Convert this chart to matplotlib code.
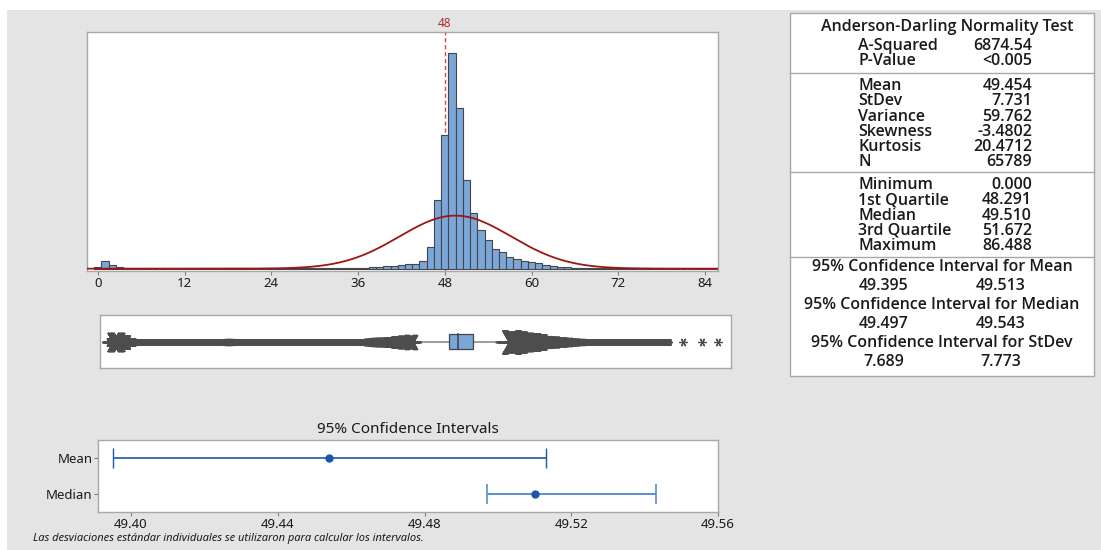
import matplotlib
matplotlib.use("Agg")
import matplotlib.pyplot as plt
from matplotlib.patches import Rectangle
from matplotlib.lines import Line2D
import numpy as np

plt.rcParams["font.family"] = ["Noto Sans", "DejaVu Sans"]

# ---------------------------------------------------
# DATA
# ---------------------------------------------------
# histogram, bins of width 1 centred on 0, 1, ..., 86
bin_centers = list(range(0, 87))
counts = [84, 485, 253, 84, 10, 6, 6, 6, 5, 5,
          5, 5, 6, 6, 6, 6, 8, 60, 55, 12,
          40, 30, 20, 22, 24, 26, 28, 30, 35, 38,
          40, 42, 45, 45, 48, 50, 55, 70, 105, 110,
          140, 190, 235, 295, 320, 485, 1414, 4410, 8546, 13778,
          10255, 5676, 3587, 2469, 1836, 1245, 1097, 760, 612, 485,
          443, 338, 211, 169, 127, 105, 70, 60, 45, 40,
          35, 28, 22, 18, 15, 12, 30, 10, 4, 3,
          0, 1, 1, 0, 1, 0, 1]
ref_value = 48

mean, stdev, n_obs = 49.454, 7.731, 65789
minimum, q1, median, q3 = 0.0, 48.291, 49.510, 51.672
whisker_low, whisker_high = 43.3, 56.7
extreme_outliers = [81.5, 84.2, 86.488]

mean_ci = (49.395, 49.513)
median_ci = (49.497, 49.543)
stdev_ci = (7.689, 7.773)

ad_rows = [("A-Squared", "6874.54"), ("P-Value", "<0.005")]
moment_rows = [("Mean", "49.454"), ("StDev", "7.731"), ("Variance", "59.762"),
               ("Skewness", "-3.4802"), ("Kurtosis", "20.4712"), ("N", "65789")]
quantile_rows = [("Minimum", "0.000"), ("1st Quartile", "48.291"),
                 ("Median", "49.510"), ("3rd Quartile", "51.672"),
                 ("Maximum", "86.488")]
ci_rows = [("95% Confidence Interval for Mean", mean_ci),
           ("95% Confidence Interval for Median", median_ci),
           ("95% Confidence Interval for StDev", stdev_ci)]

hist_ticks = [0, 12, 24, 36, 48, 60, 72, 84]
ci_ticks = [49.40, 49.44, 49.48, 49.52, 49.56]
ci_labels = ["Mean", "Median"]
footnote = "Las desviaciones estándar individuales se utilizaron para calcular los intervalos."

# ---------------------------------------------------
# FIGURE
# ---------------------------------------------------
W, H = 1101, 550
fig = plt.figure(figsize=(W / 100, H / 100), dpi=100, facecolor="white")


def fx(px):
    return px / W


def fy(py):
    return 1 - py / H


fig.add_artist(Rectangle((fx(7), 0), 1 - fx(7), fy(10), transform=fig.transFigure,
                         facecolor="#e4e4e4", edgecolor="none", zorder=-10))

BAR = "#7ba6da"
EDGE = "#464646"
FRAME = "#a8a8a8"
TXT = "#1a1a1a"


def frame(ax):
    for s in ax.spines.values():
        s.set_color(FRAME)
        s.set_linewidth(1.0)
    ax.set_facecolor("white")


# ---------------------------------------------------
# HISTOGRAM
# ---------------------------------------------------
ax_h = fig.add_axes([fx(87), fy(271), fx(718) - fx(87), fy(32) - fy(271)])
frame(ax_h)
ax_h.bar(bin_centers, counts, width=1.0, color=BAR, edgecolor=EDGE, linewidth=0.8, zorder=3)
xs = np.linspace(-1.5, 86, 600)
pdf = n_obs / (stdev * np.sqrt(2 * np.pi)) * np.exp(-0.5 * ((xs - mean) / stdev) ** 2)
ax_h.plot(xs, pdf, color="#9e1515", linewidth=1.3, zorder=4)
ax_h.axvline(ref_value, color="#e8403a", linestyle=(0, (3, 2)), linewidth=1.0, zorder=2)
ax_h.text(ref_value, 1.01, str(ref_value), transform=ax_h.get_xaxis_transform(),
          ha="center", va="bottom", color="#b03030", fontsize=8.5)
ax_h.set_xlim(-1.5, 85.8)
ax_h.set_ylim(-150, 15150)
ax_h.set_xticks(hist_ticks)
ax_h.set_yticks([])
ax_h.tick_params(axis="x", length=3, color="#808080", labelsize=9.5, labelcolor=TXT, pad=1)

# ---------------------------------------------------
# BOXPLOT
# ---------------------------------------------------
ax_b = fig.add_axes([fx(100), fy(368), fx(731) - fx(100), fy(315) - fy(368)])
frame(ax_b)
ax_b.set_xlim(-1.2, 88.3)
ax_b.set_ylim(-1, 1)
ax_b.set_xticks([])
ax_b.set_yticks([])
ax_b.plot([whisker_low, q1], [0, 0], color="#8c8c8c", linewidth=1.2, zorder=2)
ax_b.plot([q3, whisker_high], [0, 0], color="#8c8c8c", linewidth=1.2, zorder=2)
ax_b.add_patch(Rectangle((q1, -0.3), q3 - q1, 0.6, facecolor=BAR, edgecolor=EDGE,
                         linewidth=0.9, zorder=3))
ax_b.plot([median, median], [-0.3, 0.3], color=EDGE, linewidth=1.2, zorder=4)

# dense outliers: drawn bin by bin, marker size growing with the bin count
star = (6, 2, 90)
for c, cnt in zip(bin_centers, counts):
    if cnt == 0 or c >= 80:
        continue
    lo, hi = max(c - 0.5, minimum), c + 0.5
    if c < whisker_low + 1:
        hi = min(hi, whisker_low - 0.1)
    elif c > whisker_high - 1:
        lo = max(lo, whisker_high + 0.1)
    else:
        continue
    if hi <= lo:
        continue
    size_px = min(32, max(7, 1.0 * cnt ** 0.5))
    pos = np.arange(lo + 0.08, hi, 0.06)
    ax_b.plot(pos, np.zeros_like(pos), linestyle="none", marker=star,
              markersize=size_px * 0.72, markeredgewidth=1.0,
              color="#4d4d4d", zorder=3)
ax_b.plot(extreme_outliers, [0] * len(extreme_outliers), linestyle="none", marker=star,
          markersize=6, markeredgewidth=0.9, color="#4d4d4d", zorder=3)

# ---------------------------------------------------
# CONFIDENCE INTERVALS
# ---------------------------------------------------
ax_c = fig.add_axes([fx(98), fy(512), fx(718) - fx(98), fy(440) - fy(512)])
frame(ax_c)
ax_c.set_xlim(49.391, 49.56)
ax_c.set_ylim(-0.5, 1.5)
ax_c.errorbar([mean], [1], xerr=[[mean - mean_ci[0]], [mean_ci[1] - mean]],
              fmt="o", color="#1c58a8", ecolor="#1c58a8", elinewidth=1.2,
              capsize=7, capthick=1.0, markersize=5)
ax_c.errorbar([median], [0], xerr=[[median - median_ci[0]], [median_ci[1] - median]],
              fmt="o", color="#1c58a8", ecolor="#5a8fd0", elinewidth=1.4,
              capsize=7, capthick=1.2, markersize=5)
ax_c.set_yticks([1, 0])
ax_c.set_yticklabels(ci_labels)
ax_c.set_xticks(ci_ticks)
ax_c.set_xticklabels(["%.2f" % t for t in ci_ticks])
ax_c.tick_params(length=3, color="#808080", labelsize=9.5, labelcolor=TXT, pad=1)
ax_c.set_title("95% Confidence Intervals", fontsize=11, color=TXT, pad=5)

fig.text(fx(33), fy(538), footnote, fontsize=8, style="italic", color=TXT, va="center")

# ---------------------------------------------------
# SUMMARY TABLE
# ---------------------------------------------------
fig.add_artist(Rectangle((fx(790), fy(376)), fx(1094) - fx(790), fy(13) - fy(376),
                         transform=fig.transFigure, facecolor="white",
                         edgecolor=FRAME, linewidth=1.0))
for py in [73, 172, 257]:
    fig.add_artist(Line2D([fx(790), fx(1094)], [fy(py), fy(py)],
                          transform=fig.transFigure, color=FRAME, linewidth=1.0))

tkw = dict(fontsize=11.5, color=TXT, va="center", fontweight="semibold",
           family=["Open Sans", "DejaVu Sans"])
fig.text(fx(947), fy(27), "Anderson-Darling Normality Test", ha="center", **tkw)


def rows(items, y0):
    for i, (lab, val) in enumerate(items):
        y = y0 + i * 15.3
        fig.text(fx(858), fy(y), lab, ha="left", **tkw)
        fig.text(fx(1032), fy(y), val, ha="right", **tkw)


rows(ad_rows, 46)
rows(moment_rows, 86)
rows(quantile_rows, 185)
for i, (title, (lo, hi)) in enumerate(ci_rows):
    y = 267 + i * 38
    fig.text(fx(942), fy(y), title, ha="center", **tkw)
    fig.text(fx(884), fy(y + 18.5), "%.3f" % lo, ha="center", **tkw)
    fig.text(fx(1001), fy(y + 18.5), "%.3f" % hi, ha="center", **tkw)

fig.savefig("out.png", dpi=100)
